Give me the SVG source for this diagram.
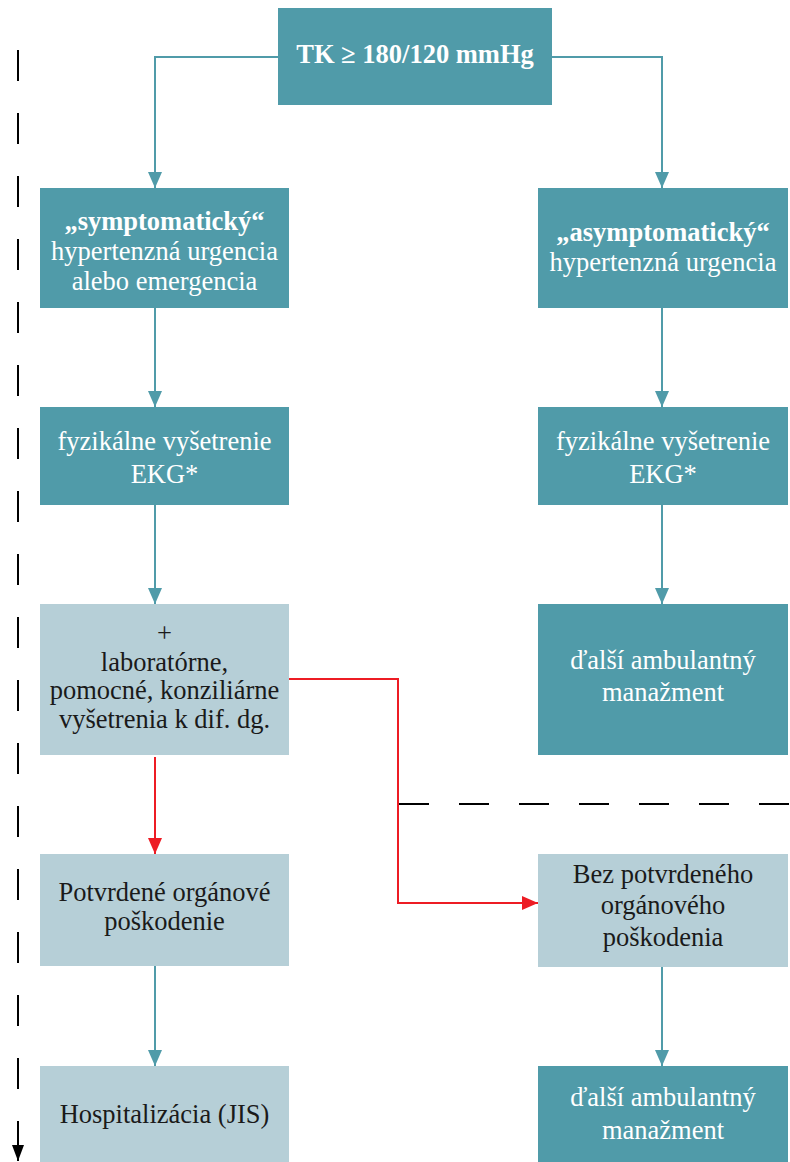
<svg xmlns="http://www.w3.org/2000/svg" width="790" height="1162" viewBox="0 0 790 1162">
<defs>
<style>
.dark{fill:#509ba9}
.light{fill:#b6cfd7}
text{font-family:'Liberation Serif','Times New Roman',serif;font-size:26.5px;text-anchor:middle}
.w{fill:#ffffff}
.k{fill:#1a1a1a}
.b{font-weight:bold}
.tl{fill:none;stroke:#509ba9;stroke-width:2}
.rl{fill:none;stroke:#ed1c24;stroke-width:2}
.dl{fill:none;stroke:#000;stroke-width:2}
</style>
<marker id="at" markerUnits="userSpaceOnUse" markerWidth="16" markerHeight="14" refX="16" refY="7" orient="auto" viewBox="0 0 16 14"><path d="M0,0 L16,7 L0,14 z" fill="#509ba9"/></marker>
<marker id="ar" markerUnits="userSpaceOnUse" markerWidth="16" markerHeight="14" refX="16" refY="7" orient="auto" viewBox="0 0 16 14"><path d="M0,0 L16,7 L0,14 z" fill="#ed1c24"/></marker>
<marker id="ak" markerUnits="userSpaceOnUse" markerWidth="16" markerHeight="12" refX="16" refY="6" orient="auto" viewBox="0 0 16 12"><path d="M0,0 L16,6 L0,12 z" fill="#000"/></marker>
</defs>

<g id="connectors">
<path class="tl" d="M278,57 H155 V188" marker-end="url(#at)"/>
<path class="tl" d="M552,57 H662 V188" marker-end="url(#at)"/>
<path class="tl" d="M155,308 V407" marker-end="url(#at)"/>
<path class="tl" d="M155,505 V604" marker-end="url(#at)"/>
<path class="tl" d="M155,966 V1066" marker-end="url(#at)"/>
<path class="tl" d="M662,308 V407" marker-end="url(#at)"/>
<path class="tl" d="M662,505 V604" marker-end="url(#at)"/>
<path class="tl" d="M662,967 V1066" marker-end="url(#at)"/>
<path class="rl" d="M155,757 V854" marker-end="url(#ar)"/>
<path class="rl" d="M289,679 H398 V903 H538" marker-end="url(#ar)"/>
<path class="dl" d="M399,804 H790" stroke-dasharray="30 30"/>
<path class="dl" d="M18,50 V1145" stroke-dasharray="31 32"/>
<path class="dl" d="M18,1140 V1161" marker-end="url(#ak)"/>
</g>

<g font-family="Liberation Serif, serif">
<g id="n-top">
<rect class="dark" x="278" y="8" width="274" height="97"/>
<text class="w b" x="415" y="63">TK ≥ 180/120 mmHg</text>
</g>

<g id="n-sym">
<rect class="dark" x="40" y="188" width="249" height="120"/>
<text class="w b" x="164.5" y="230">„symptomatický“</text>
<text class="w" x="164.5" y="260">hypertenzná urgencia</text>
<text class="w" x="164.5" y="290">alebo emergencia</text>
</g>

<g id="n-asym">
<rect class="dark" x="538" y="188" width="250" height="120"/>
<text class="w b" x="663" y="241">„asymptomatický“</text>
<text class="w" x="663" y="271">hypertenzná urgencia</text>
</g>

<g id="n-fyz-l">
<rect class="dark" x="40" y="407" width="249" height="98"/>
<text class="w" x="164.5" y="450">fyzikálne vyšetrenie</text>
<text class="w" x="164.5" y="483">EKG*</text>
</g>

<g id="n-fyz-r">
<rect class="dark" x="538" y="407" width="250" height="98"/>
<text class="w" x="663" y="450">fyzikálne vyšetrenie</text>
<text class="w" x="663" y="483">EKG*</text>
</g>

<g id="n-lab">
<rect class="light" x="40" y="604" width="249" height="151"/>
<text class="k" x="164.5" y="642">+</text>
<text class="k" x="164.5" y="671">laboratórne,</text>
<text class="k" x="164.5" y="699">pomocné, konziliárne</text>
<text class="k" x="164.5" y="728">vyšetrenia k dif. dg.</text>
</g>

<g id="n-amb1">
<rect class="dark" x="538" y="604" width="250" height="151"/>
<text class="w" x="663" y="669">ďalší ambulantný</text>
<text class="w" x="663" y="701">manažment</text>
</g>

<g id="n-potv">
<rect class="light" x="40" y="854" width="249" height="112"/>
<text class="k" x="164.5" y="901">Potvrdené orgánové</text>
<text class="k" x="164.5" y="930">poškodenie</text>
</g>

<g id="n-bez">
<rect class="light" x="538" y="854" width="250" height="113"/>
<text class="k" x="663" y="883">Bez potvrdeného</text>
<text class="k" x="663" y="914">orgánového</text>
<text class="k" x="663" y="946">poškodenia</text>
</g>

<g id="n-hosp">
<rect class="light" x="40" y="1066" width="249" height="96"/>
<text class="k" x="164.5" y="1123">Hospitalizácia (JIS)</text>
</g>

<g id="n-amb2">
<rect class="dark" x="538" y="1066" width="250" height="96"/>
<text class="w" x="663" y="1106">ďalší ambulantný</text>
<text class="w" x="663" y="1139">manažment</text>
</g>
</g>
</svg>
